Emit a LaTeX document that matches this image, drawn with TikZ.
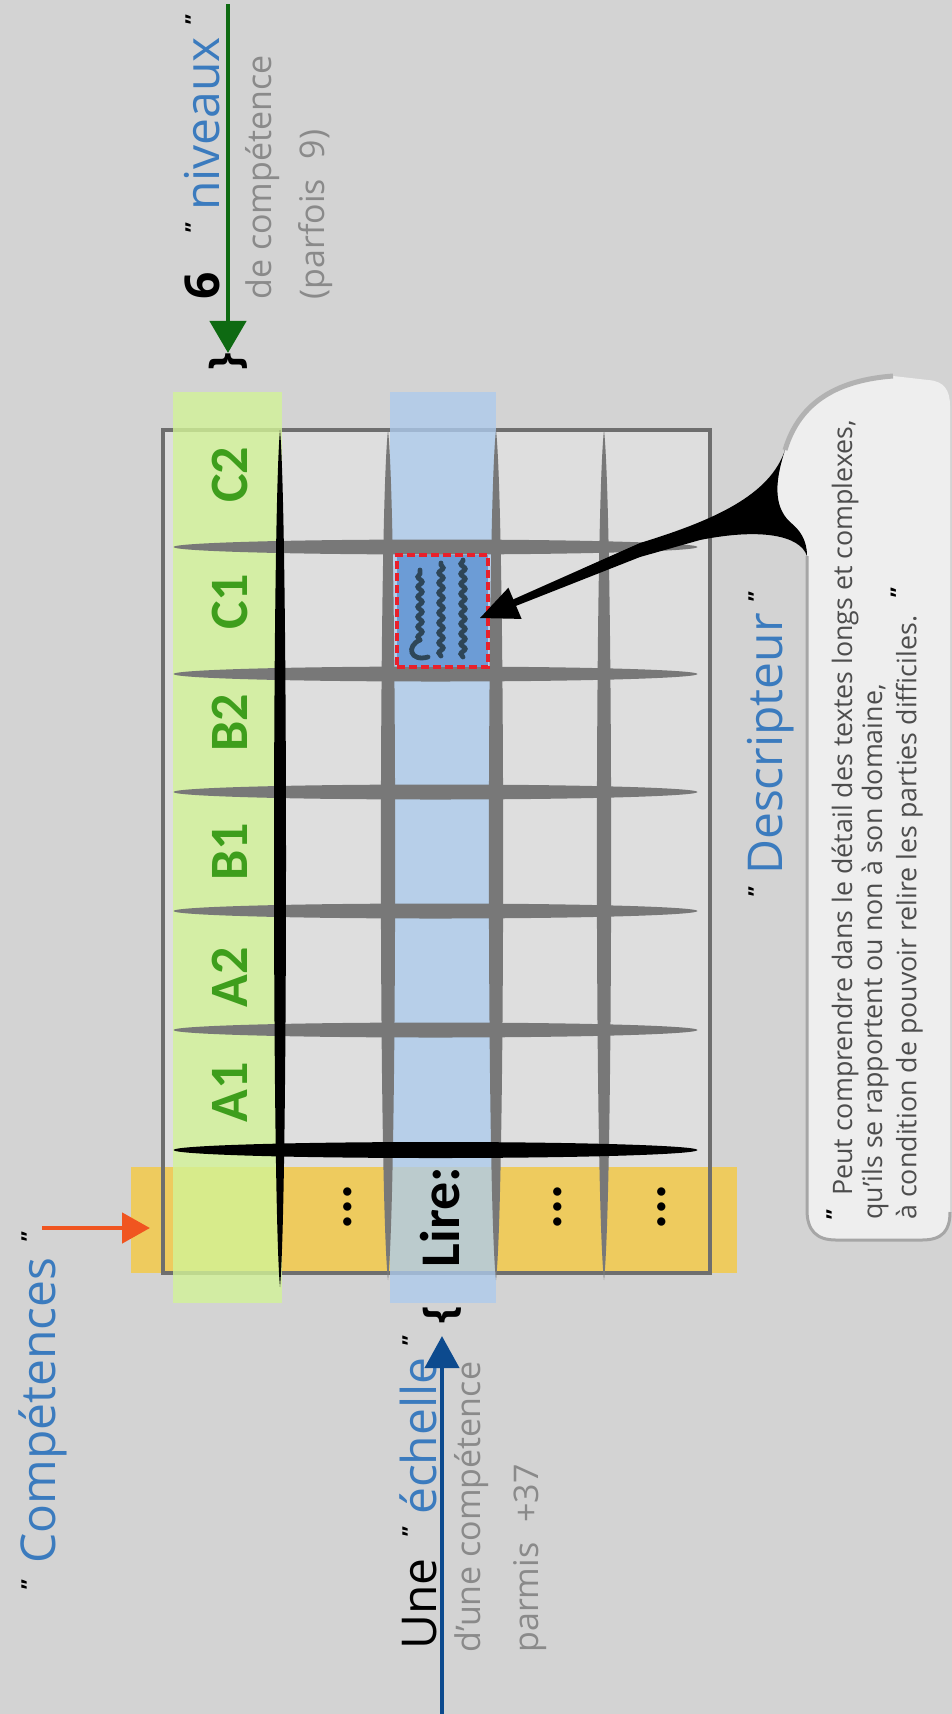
\documentclass[tikz,border=0pt]{standalone}
\usepackage{fontspec}
\setmainfont{Open Sans}
\newfontfamily\carlito{Carlito}
\usepackage{tikz}
\usetikzlibrary{arrows.meta, calc, decorations.pathmorphing}
\definecolor{bgcol}{HTML}{D3D3D3}
\definecolor{cellcol}{HTML}{DEDEDE}
\definecolor{bordercol}{HTML}{6E6E6E}
\definecolor{linecol}{HTML}{787878}
\definecolor{levelstrip}{HTML}{D2F397}
\definecolor{scalestrip}{HTML}{ADCBED}
\definecolor{compstrip}{HTML}{EECB5E}
\definecolor{levelgreen}{HTML}{3E9E1C}
\definecolor{labelblue}{HTML}{3B7BBE}
\definecolor{notegray}{HTML}{8A8A8A}
\definecolor{arrowgreen}{HTML}{0E6A12}
\definecolor{arrowblue}{HTML}{0C4A8E}
\definecolor{arroworange}{HTML}{F05520}
\definecolor{desccol}{HTML}{6C9CD6}
\definecolor{descred}{HTML}{E8202B}
\definecolor{scribcol}{HTML}{2E4658}
\definecolor{bubblecol}{HTML}{EEEEEE}
\definecolor{bubbletext}{HTML}{4D4D4D}
\newcommand{\qm}[1][9pt]{\raisebox{#1}{\color{black}\fontsize{11}{11}\selectfont\bfseries"}}

\begin{document}
\begin{tikzpicture}[x=0.5pt, y=-0.5pt,
    level/.style={rotate=90, inner sep=0, text=levelgreen, font=\carlito\bfseries\fontsize{27}{27}\selectfont},
    rowtxt/.style={rotate=90, inner sep=0, font=\carlito\bfseries\fontsize{28}{28}\selectfont},
    bigword/.style={rotate=90, anchor=base west, inner sep=0, text=labelblue, font=\fontsize{24}{24}\selectfont},
    note/.style={rotate=90, anchor=base west, inner sep=0, text=notegray, font=\fontsize{17}{17}\selectfont},
    brace/.style={rotate=90, inner sep=0, font=\bfseries\fontsize{22}{22}\selectfont},
    bubbletxt/.style={rotate=90, anchor=north west, align=left, inner sep=0, text=bubbletext, font=\fontsize{13.4}{15}\selectfont},
    desccell/.style={fill=desccol, draw=descred, dash pattern=on 4pt off 2pt, line width=2pt,
      preaction={draw=white, line width=2pt}, minimum width=45.5pt, minimum height=56pt, inner sep=0},
    scrib/.style={draw=scribcol, line width=2.4pt, line cap=round, decorate,
      decoration={snake, amplitude=1.1pt, segment length=5pt}},
    garrow/.style={draw=arrowgreen, line width=2.4pt, -{Triangle[length=16pt, width=18pt]}},
    barrow/.style={draw=arrowblue, line width=2.2pt, -{Triangle[length=16pt, width=17pt]}},
    oarrow/.style={draw=arroworange, line width=2.4pt, -{Triangle[length=14pt, width=15pt]}}]
  % Background
  \useasboundingbox (0,0) rectangle (952,1714);
  \fill[bgcol] (0,0) rectangle (952,1714);

  % Grid cells and competence strip
  \fill[cellcol] (163,430) rectangle (710,1273);
  \fill[compstrip] (131,1167) rectangle (737,1273);
  \draw[bordercol, line width=2pt] (163,430) rectangle (710,1273);
  % Level and scale strips
  \fill[levelstrip, fill opacity=0.8] (173,392) rectangle (282,1303);
  \fill[scalestrip, fill opacity=0.78] (390,392) rectangle (496,1303);

  % Grid lines
  \foreach \y in {547,674,792,911,1030}
    \fill[linecol] (435.5,\y) ellipse [x radius=131pt, y radius=3.75pt];
  \foreach \x in {388,496,604}
    \fill[linecol] (\x,430) .. controls (\x+9.5,515) and (\x+9.5,1195) .. (\x,1280)
      .. controls (\x-9.5,1195) and (\x-9.5,515) .. cycle;
  \fill[black] (280,430) .. controls (288,516) and (288,1201) .. (280,1287)
    .. controls (272,1201) and (272,516) .. cycle;
  \fill[black] (435.5,1150) ellipse [x radius=131pt, y radius=4pt];

  % Level labels
  \foreach \lab/\y in {A1/1092,A2/977,B1/852,B2/723,C1/602,C2/475}
    \node[level] (lvl\lab) at (230,\y) {\lab};
  % Competence labels
  \node[rowtxt] (rowLire) at (440,1217) {Lire:};
  \foreach \x [count=\i] in {351,561,665}
    \node[rowtxt, anchor=base] (rowDots\i) at (\x,1207) {...};

  % Descriptor cell
  \node[desccell] (desc) at (442.5,611) {};
  \draw[scrib] (420,640) -- (420,570);
  \draw[scribcol, line width=2.4pt, line cap=round] (428,657) .. controls (410,662) and (406,646) .. (420,640);
  \draw[scrib] (441,656) -- (441,563);
  \draw[scrib] (463,657) -- (463,560);

  % Callout bubble
  \fill[bubblecol] (785,450) .. controls (800,400) and (840,380) .. (893,376) -- (928,380)
    .. controls (944,381) and (950,390) .. (950,406) -- (950,1212)
    .. controls (950,1230) and (943,1240) .. (922,1240) -- (836,1240)
    .. controls (816,1240) and (807,1230) .. (807,1210) -- (807,556)
    .. controls (807,540) and (800,530) .. (790,522)
    .. controls (772,505) and (776,478) .. cycle;
  \draw[gray!70, line width=1.5pt] (807,556) -- (807,1210)
    .. controls (807,1230) and (816,1240) .. (836,1240) -- (922,1240)
    .. controls (943,1240) and (950,1230) .. (950,1212);
  \draw[gray!60, line width=2.5pt] (785,450) .. controls (800,400) and (840,380) .. (893,376);
  % Pointer to the descriptor
  \coordinate (descTip) at ($(desc.east)+(-10,7)$);
  \fill[black] (511.6,600.1) -- (640,543) .. controls (715,520) and (770,495) .. (785,450)
    .. controls (776,478) and (772,505) .. (790,522)
    .. controls (800,530) and (807,540) .. (807,556)
    .. controls (800,535) and (760,528) .. (700,540) -- (640,557) -- (514.4,606.5) -- cycle;
  \fill[black] (descTip) -- ($(descTip)+(28.4,-30.3)$) -- ($(descTip)+(41.6,0.9)$) -- cycle;
  \node[bubbletxt] (quote) at (826,1220) {\qm[5pt]\hspace{7pt}Peut comprendre dans le détail des textes longs et complexes,\\
    qu'ils se rapportent ou non à son domaine,\\
    à condition de pouvoir relire les parties difficiles.\hspace{9pt}\qm[5pt]};
  \node[bigword] (descLab) at (782,897) {\qm\hspace{6pt}Descripteur\hspace{6pt}\qm};

  % Competences
  \node[bigword] (comp) at (55,1590) {\qm\hspace{8pt}Compétences\hspace{8pt}\qm};
  \coordinate (compIn) at (150,1228);
  \draw[oarrow] (comp.east |- compIn) -- (compIn);

  % Levels
  \node[bigword, text=black, font=\bfseries\fontsize{24}{24}\selectfont] (six) at (219,300) {6};
  \node[bigword] (niv) at (219,233) {\qm\hspace{6pt}niveaux\hspace{6pt}\qm};
  \node[note] (nivNote) at (271,300) {de compétence};
  \node[note] (nivCount) at (324,300) {(parfois\hspace{10pt}9)};
  \node[brace] (braceTop) at (228,362) {\}};
  \coordinate (nivStart) at (228,4);
  \draw[garrow] (nivStart) -- (braceTop.east);

  % Scale
  \node[bigword, text=black] (une) at (436,1650) {Une};
  \node[bigword] (ech) at (436,1537) {\qm\hspace{6pt}échelle\hspace{6pt}\qm};
  \node[note] (echNote) at (480,1653) {d'une compétence};
  \node[note] (echCount) at (538,1653) {parmis\hspace{10pt}+37};
  \node[brace] (braceBot) at (442,1315) {\{};
  \coordinate (echStart) at (442,1714);
  \draw[barrow, shorten >=6pt] (echStart) -- (braceBot.west);
\end{tikzpicture}
\end{document}
